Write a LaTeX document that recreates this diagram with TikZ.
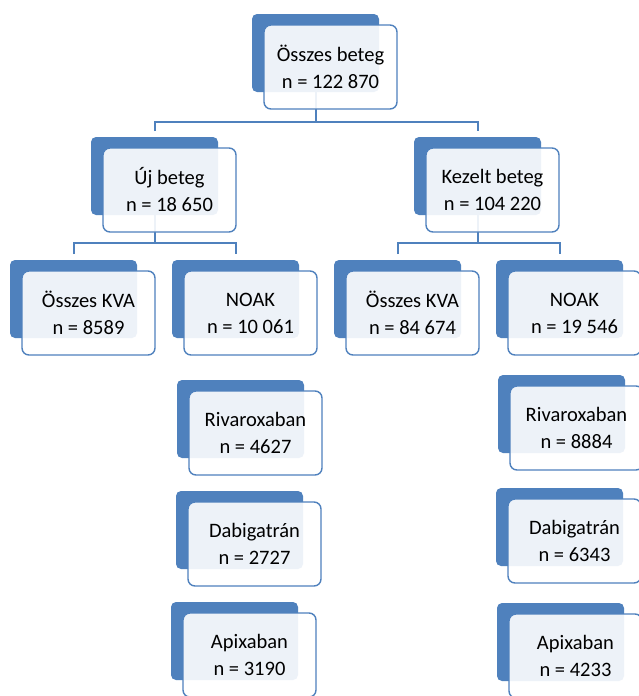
\documentclass[tikz,border=0pt]{standalone}
\usepackage{fontspec}
\setmainfont{Carlito}
\definecolor{accblue}{HTML}{4F81BD}
\tikzset{
  backbox/.style={draw=none, fill=accblue, rounded corners=5pt, minimum width=127pt, minimum height=78pt, inner sep=0pt, outer sep=0pt, anchor=north west},
  frontbox/.style={draw=accblue, line width=1.4pt, fill=white, fill opacity=0.9, text opacity=1, rounded corners=7pt, minimum width=133pt, minimum height=84pt, inner sep=0pt, outer sep=0pt, anchor=north west, align=center, text=black, font=\fontsize{20.5}{27}\selectfont},
  conn/.style={draw=accblue, line width=2pt}
}
\newcommand{\backb}[3]{\node[backbox] (#1) at (#2,#3) {};}
\newcommand{\frontb}[2]{\node[frontbox] (f#1) at ([xshift=12pt,yshift=-11pt]#1.north west) {#2};}
\begin{document}
\begin{tikzpicture}[x=1pt,y=-1pt]
\useasboundingbox (0,0) rectangle (639,696);
\fill[white] (0,0) rectangle (639,696);
% back boxes
\backb{b1}{252}{14}
\backb{b2}{91}{137}
\backb{b3}{414}{137}
\backb{b4}{10}{260}
\backb{b5}{172}{260}
\backb{b6}{334}{260}
\backb{b7}{496}{260}
\backb{b8}{177}{380}
\backb{b9}{176}{491}
\backb{b10}{171}{602}
\backb{b11}{498}{375}
\backb{b12}{496}{488}
\backb{b13}{497}{603}
% connectors
\path (b1.south) ++(0,30) coordinate (j1);
\path (b2.south) ++(0,28) coordinate (j2);
\path (b3.south) ++(0,28) coordinate (j3);
\draw[conn] (b1.south) -- (j1);
\draw[conn] ([yshift=6pt]b2.north) |- (j1) -| ([yshift=6pt]b3.north);
\draw[conn] (b2.south) -- (j2);
\draw[conn] ([yshift=6pt]b4.north) |- (j2) -| ([yshift=6pt]b5.north);
\draw[conn] (b3.south) -- (j3);
\draw[conn] ([yshift=6pt]b6.north) |- (j3) -| ([yshift=6pt]b7.north);
% front boxes
\frontb{b1}{Összes beteg\\n = 122 870}
\frontb{b2}{Új beteg\\n = 18 650}
\frontb{b3}{Kezelt beteg\\n = 104 220}
\frontb{b4}{Összes KVA\\n = 8589}
\frontb{b5}{NOAK\\n = 10 061}
\frontb{b6}{Összes KVA\\n = 84 674}
\frontb{b7}{NOAK\\n = 19 546}
\frontb{b8}{Rivaroxaban\\n = 4627}
\frontb{b9}{Dabigatrán\\n = 2727}
\frontb{b10}{Apixaban\\n = 3190}
\frontb{b11}{Rivaroxaban\\n = 8884}
\frontb{b12}{Dabigatrán\\n = 6343}
\frontb{b13}{Apixaban\\n = 4233}
\end{tikzpicture}
\end{document}
